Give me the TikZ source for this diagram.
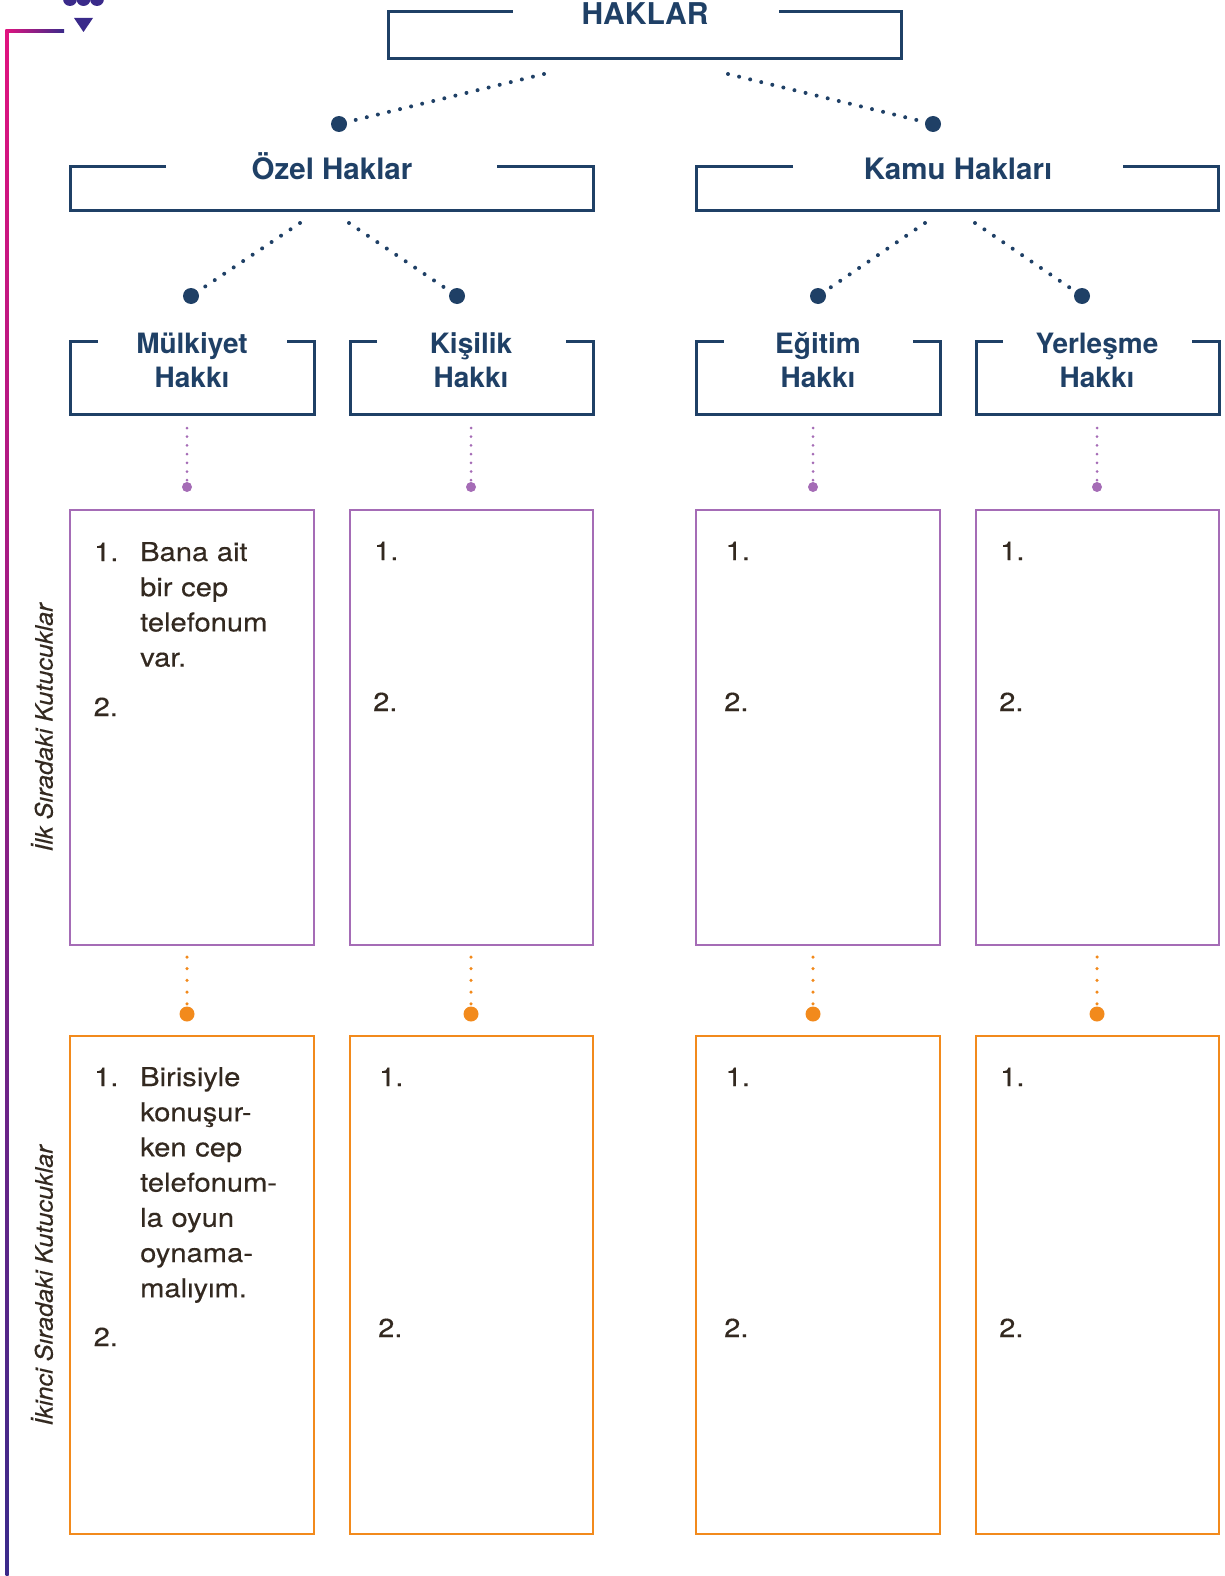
\documentclass[tikz,border=0pt]{standalone}
\usepackage{fontspec}
\setmainfont{TeX Gyre Heros}
\newfontfamily\bodyfont[FakeStretch=1.12,FakeBold=0.3]{TeX Gyre Heros}
\newfontfamily\labfont[FakeStretch=1.05,FakeBold=0.3]{TeX Gyre Heros}
\definecolor{cNavy}{HTML}{1F4066}
\definecolor{cBody}{HTML}{332920}
\definecolor{cPurp}{HTML}{A56CB6}
\definecolor{cOrng}{HTML}{F28A1C}
\definecolor{cMag}{HTML}{E0137F}
\definecolor{cDeep}{HTML}{3A2A8A}
\newcommand\openbox[7]{\draw[#1] (#6,#4) -- (#2,#4) -- (#2,#5) -- (#3,#5) -- (#3,#4) -- (#7,#4);}
\newcommand\closedbox[5]{\draw[#1] (#2,#4) rectangle (#3,#5);}
\tikzset{
  navybox/.style={draw=cNavy, line width=3pt},
  purpbox/.style={draw=cPurp, line width=2.6pt},
  orngbox/.style={draw=cOrng, line width=2.6pt},
  navydots/.style={draw=cNavy, line width=4pt, line cap=round, dash pattern=on 0pt off 11.4pt},
  purpdots/.style={draw=cPurp, line width=3pt, line cap=round, dash pattern=on 0pt off 8.7pt},
  orngdots/.style={draw=cOrng, line width=3.5pt, line cap=round, dash pattern=on 0pt off 11.7pt},
  navyend/.style={circle, fill=cNavy, inner sep=0pt, minimum size=16pt},
  purpend/.style={circle, fill=cPurp, inner sep=0pt, minimum size=10pt},
  orngend/.style={circle, fill=cOrng, inner sep=0pt, minimum size=15pt},
  headtxt/.style={text=cNavy, font=\bfseries\fontsize{28}{34.5}\selectfont, anchor=base, inner sep=0pt},
  head2txt/.style={headtxt, font=\bfseries\fontsize{29.5}{34.5}\selectfont},
  toptxt/.style={text=cNavy, font=\bfseries\fontsize{30}{36}\selectfont, anchor=base, inner sep=0pt},
  numtxt/.style={text=cBody, font=\bodyfont\fontsize{26}{35.2}\selectfont, anchor=base west, inner sep=0pt},
  bodytxt/.style={numtxt, text width=170pt, align=left},
  labtxt/.style={text=cBody, font=\labfont\itshape\fontsize{24}{28}\selectfont, inner sep=0pt, rotate=90},
}
\begin{document}
\begin{tikzpicture}[x=1pt,y=-1pt]
\useasboundingbox (0,0) rectangle (1224,1576);
% left decoration
\fill[cDeep] (70,-1) circle (7pt);
\fill[cDeep] (83.5,-1) circle (7pt);
\fill[cDeep] (97,-1) circle (7pt);
\fill[cDeep] (74,18) -- (93,18) -- (83.5,32) -- cycle;
\shade[top color=cMag, bottom color=cDeep] (5.5,29.5) rectangle (8.5,1576);
\shade[left color=cMag, right color=cDeep] (5.5,29.5) rectangle (64,32.5);
\node[labtxt] (lab1) at (42,727.5) {İlk Sıradaki Kutucuklar};
\node[labtxt] (lab2) at (42,1285.5) {İkinci Sıradaki Kutucuklar};

% level 1
\openbox{navybox}{388}{901}{12}{59}{512.5}{779}
\node[toptxt] (haklar) at (645,25) {HAKLAR};
\coordinate (s1) at (544,74);
\coordinate (s2) at (728,74);
\node[navyend] (e1) at (339,124) {};
\node[navyend] (e2) at (933,124) {};
\draw[navydots] (s1) -- (e1.center);
\draw[navydots] (s2) -- (e2.center);

% level 2
\openbox{navybox}{70}{593}{166}{210}{166}{497}
\node[head2txt] (ozel) at (332,179) {Özel Haklar};
\openbox{navybox}{696}{1218}{166}{210}{793}{1123}
\node[head2txt] (kamu) at (958,179) {Kamu Hakları};
\coordinate (s3) at (300,223);
\coordinate (s4) at (349,223);
\coordinate (s5) at (925,223);
\coordinate (s6) at (975,223);
\node[navyend] (e3) at (191,296) {};
\node[navyend] (e4) at (457,296) {};
\node[navyend] (e5) at (818,296) {};
\node[navyend] (e6) at (1082,296) {};
\draw[navydots] (s3) -- (e3.center);
\draw[navydots] (s4) -- (e4.center);
\draw[navydots] (s5) -- (e5.center);
\draw[navydots] (s6) -- (e6.center);

% level 3
\openbox{navybox}{70}{314}{341}{414}{97.5}{286.5}
\openbox{navybox}{350}{593}{341}{414}{377}{566}
\openbox{navybox}{696}{940}{341}{414}{723.5}{912.5}
\openbox{navybox}{976}{1219}{341}{414}{1003}{1192}
\node[headtxt] (m1) at (192,353) {Mülkiyet};
\node[headtxt] (m2) at (192,387) {Hakkı};
\node[headtxt] (k1) at (471,353) {Kişilik};
\node[headtxt] (k2) at (471,387) {Hakkı};
\node[headtxt] (g1) at (818,353) {Eğitim};
\node[headtxt] (g2) at (818,387) {Hakkı};
\node[headtxt] (y1) at (1097,353) {Yerleşme};
\node[headtxt] (y2) at (1097,387) {Hakkı};

% purple and orange connectors
\foreach \n/\x in {a/187,b/471,c/813,d/1097}{
  \coordinate (p\n) at (\x,428);
  \node[purpend] (pe\n) at (\x,487) {};
  \draw[purpdots] (p\n) -- (pe\n.center);
  \coordinate (o\n) at (\x,957);
  \node[orngend] (oe\n) at (\x,1014) {};
  \draw[orngdots] (o\n) -- (oe\n.center);
}

% purple boxes
\closedbox{purpbox}{70}{314}{510}{945}
\closedbox{purpbox}{350}{593}{510}{945}
\closedbox{purpbox}{696}{940}{510}{945}
\closedbox{purpbox}{976}{1219}{510}{945}
% orange boxes
\closedbox{orngbox}{70}{314}{1036}{1534}
\closedbox{orngbox}{350}{593}{1036}{1534}
\closedbox{orngbox}{696}{940}{1036}{1534}
\closedbox{orngbox}{976}{1219}{1036}{1534}

% purple texts
\node[numtxt] (pa1) at (94,561) {1.};
\node[bodytxt] (pat) at (140,561) {Bana ait\\bir cep\\telefonum\\var.};
\node[numtxt] (pa2) at (93.5,716) {2.};
\node[numtxt] (pb1) at (374,560) {1.};
\node[numtxt] (pb2) at (373,711) {2.};
\node[numtxt] (pc1) at (725.5,560) {1.};
\node[numtxt] (pc2) at (724,711) {2.};
\node[numtxt] (pd1) at (1000,560) {1.};
\node[numtxt] (pd2) at (999,711) {2.};

% orange texts
\node[numtxt] (oa1) at (94,1086) {1.};
\node[bodytxt] (oat) at (140,1086) {Birisiyle\\konuşur-\\ken cep\\telefonum-\\la oyun\\oynama-\\malıyım.};
\node[numtxt] (oa2) at (93.5,1346) {2.};
\node[numtxt] (ob1) at (379,1086) {1.};
\node[numtxt] (ob2) at (378,1337) {2.};
\node[numtxt] (oc1) at (725.5,1086) {1.};
\node[numtxt] (oc2) at (724,1337) {2.};
\node[numtxt] (od1) at (1000,1086) {1.};
\node[numtxt] (od2) at (999,1337) {2.};
\end{tikzpicture}
\end{document}
